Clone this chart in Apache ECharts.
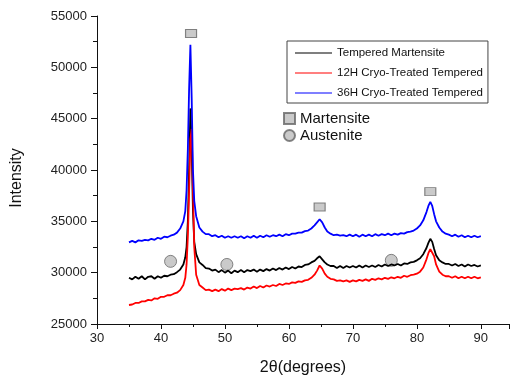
<!DOCTYPE html>
<html>
<head>
<meta charset="utf-8">
<script src="https://cdn.jsdelivr.net/npm/echarts@6/dist/echarts.min.js"></script>
<style>
  html, body { margin: 0; padding: 0; background: #fff; }
  #chart { width: 512px; height: 381px; }
</style>
</head>
<body>
<div id="chart"></div>
<script>
// 2theta positions shared by the three scans (denser around the peaks)
const twoTheta = [
  35, 35.5, 36, 36.5, 37, 37.5, 38, 38.5, 39, 39.5, 40, 40.5, 41, 41.5, 42, 42.5, 43, 43.5,
  43.8, 44, 44.2, 44.4, 44.6, 44.8, 45, 45.2,
  45.5, 46, 46.5, 47, 47.5, 48, 48.5, 49, 49.5, 50, 50.5, 51, 51.5, 52, 52.5, 53, 53.5, 54, 54.5,
  55, 55.5, 56, 56.5, 57, 57.5, 58, 58.5, 59, 59.5, 60, 60.5, 61, 61.5, 62, 62.5, 63, 63.5, 64,
  64.4, 64.8, 65.2, 65.6,
  66, 66.5, 67, 67.5, 68, 68.5, 69, 69.5, 70, 70.5, 71, 71.5, 72, 72.5, 73, 73.5, 74, 74.5,
  75, 75.5, 76, 76.5, 77, 77.5, 78, 78.5, 79, 79.5, 80, 80.5, 81, 81.5,
  81.8, 82.1, 82.4, 82.7,
  83, 83.5, 84, 84.5, 85, 85.5, 86, 86.5, 87, 87.5, 88, 88.5, 89, 89.5, 90
];

const temperedMartensite = [
  29500, 29350, 29600, 29400, 29650, 29350, 29600, 29650, 29400, 29650, 29500, 29700, 29650, 29800, 29850, 30050, 30300, 30800,
  31500, 32500, 35000, 40000, 46000, 42000, 36000, 33000,
  31800, 31000, 30750, 30450, 30400, 30200, 30300, 30050, 30250, 30000, 30200, 29950, 30200, 30050, 30250, 30050, 30250, 30150,
  30300, 30100, 30300, 30150, 30350, 30200, 30400, 30250, 30450, 30300, 30500, 30350, 30550, 30400, 30600, 30550, 30750, 30800, 31000, 31150,
  31400, 31600, 31300, 31000,
  30800, 30650, 30650, 30450, 30650, 30450, 30650, 30500, 30650, 30500, 30700, 30500, 30700, 30550, 30700, 30550, 30750, 30600,
  30800, 30650, 30800, 30700, 30850, 30700, 30900, 30850, 31000, 31050, 31200, 31400, 31800, 32400,
  32900, 33300, 33000, 32300,
  31700, 31200, 31000, 30850, 30850, 30700, 30850, 30650, 30800, 30600, 30800, 30650, 30750, 30600, 30700
];

const cryo12H = [
  26850, 26900, 27050, 27050, 27200, 27200, 27350, 27300, 27500, 27450, 27650, 27650, 27800, 27800, 27950, 28050, 28300, 28800,
  29500, 30800, 33500, 38000, 43000, 44000, 38000, 32500,
  29800, 28800, 28550, 28300, 28350, 28200, 28350, 28200, 28400, 28250, 28450, 28300, 28450, 28400, 28500, 28350, 28550, 28450,
  28650, 28500, 28700, 28550, 28750, 28650, 28800, 28700, 28900, 28800, 28950, 28900, 29050, 29000, 29150, 29100, 29250, 29300, 29500, 29800,
  30200, 30700, 30400, 29900,
  29600, 29400, 29350, 29200, 29250, 29150, 29250, 29100, 29250, 29150, 29300, 29200, 29350, 29200, 29400, 29300, 29450, 29350,
  29500, 29400, 29550, 29450, 29600, 29500, 29700, 29600, 29750, 29800, 29900, 30100, 30500, 31300,
  31900, 32300, 32400, 31600,
  30800, 30100, 29800, 29650, 29650, 29500, 29650, 29450, 29600, 29450, 29600, 29450, 29600, 29450, 29550
];

const cryo36H = [
  32950, 33100, 32950, 33150, 33100, 33200, 33150, 33300, 33200, 33400, 33300, 33500, 33450, 33600, 33700, 33900, 34300, 35000,
  36000, 38000, 42000, 48000, 52200, 47000, 40000, 37000,
  35500, 34400, 34000, 33750, 33750, 33550, 33650, 33450, 33600, 33400, 33550, 33400, 33550, 33400, 33550, 33350, 33550, 33400,
  33600, 33400, 33600, 33450, 33650, 33500, 33650, 33550, 33700, 33550, 33750, 33650, 33800, 33800, 33900, 33900, 34050, 34100, 34300, 34600,
  34900, 35200, 34900, 34400,
  34000, 33800, 33650, 33700, 33600, 33650, 33550, 33700, 33550, 33700, 33500, 33700, 33550, 33700, 33550, 33750, 33600, 33750,
  33650, 33800, 33650, 33800, 33700, 33850, 33800, 33950, 34000, 34100, 34300, 34600, 35100, 35900,
  36500, 36900, 36500, 35700,
  35000, 34400, 34000, 33800, 33700, 33550, 33700, 33500, 33650, 33450, 33600, 33450, 33600, 33450, 33550
];

// phase markers
const martensitePeaks = [[44.7, 53300], [64.8, 36400], [82.1, 37900]];
const austenitePeaks = [[41.5, 31100], [50.3, 30800], [76.0, 31200]];

const xTicks = [30, 40, 50, 60, 70, 80, 90];

const pair = (ys) => twoTheta.map((x, i) => [x, ys[i]]);

const chart = echarts.init(document.getElementById('chart'));
const font = 'Liberation Sans, Arial, sans-serif';

const lineSeries = (name, ys, color) => ({
  name,
  type: 'line',
  data: pair(ys),
  symbol: 'none',
  lineStyle: { color, width: 1.8 },
  itemStyle: { color },
  silent: true,
  animation: false,
});

const markerStyle = { color: '#bdbdbd', borderColor: '#666', borderWidth: 1 };

chart.setOption({
  animation: false,
  textStyle: { fontFamily: font },
  grid: { left: 97, right: 0, top: 16, bottom: 55 },
  legend: [
    {
      data: ['Tempered Martensite', '12H Cryo-Treated Tempered', '36H Cryo-Treated Tempered'],
      orient: 'vertical',
      left: 287,
      top: 41,
      padding: [5, 5, 3, 8],
      itemGap: 6,
      icon: 'rect',
      itemWidth: 37,
      itemHeight: 1,
      borderColor: '#444',
      borderWidth: 1,
      borderRadius: 0,
      textStyle: { fontSize: 11.5, lineHeight: 14, color: '#111', fontFamily: font },
    },
    {
      data: ['Martensite', 'Austenite'],
      orient: 'vertical',
      left: 283,
      top: 111,
      padding: 0,
      itemGap: 2,
      itemWidth: 11,
      itemHeight: 11,
      textStyle: { fontSize: 15, color: '#111', fontFamily: font },
    },
  ],
  xAxis: {
    type: 'value',
    min: 30,
    max: 94.4,
    interval: 10,
    name: '2θ(degrees)',
    nameLocation: 'middle',
    nameGap: 36,
    nameTextStyle: { fontSize: 16, color: '#111' },
    axisLine: { lineStyle: { color: '#111', width: 1 } },
    axisTick: { inside: false, length: 5, lineStyle: { color: '#111' } },
    minorTick: { show: true, splitNumber: 2, length: 3, lineStyle: { color: '#111' } },
    axisLabel: {
      margin: 8,
      fontSize: 13,
      color: '#222',
      formatter: (v) => (xTicks.includes(v) ? String(v) : ''),
    },
    splitLine: { show: false },
  },
  yAxis: {
    type: 'value',
    min: 25000,
    max: 55000,
    interval: 5000,
    name: 'Intensity',
    nameLocation: 'middle',
    nameGap: 72,
    nameTextStyle: { fontSize: 16, color: '#111', padding: [0, 16, 0, 0] },
    axisLine: { show: true, lineStyle: { color: '#111', width: 1 } },
    axisTick: { show: true, length: 6, lineStyle: { color: '#111' } },
    minorTick: { show: true, splitNumber: 2, length: 4, lineStyle: { color: '#111' } },
    axisLabel: { margin: 10, fontSize: 13, color: '#222', formatter: (v) => String(v) },
    splitLine: { show: false },
  },
  series: [
    lineSeries('Tempered Martensite', temperedMartensite, '#000000'),
    lineSeries('12H Cryo-Treated Tempered', cryo12H, '#ff0000'),
    lineSeries('36H Cryo-Treated Tempered', cryo36H, '#0000ff'),
    {
      name: 'Martensite',
      type: 'scatter',
      symbol: 'rect',
      symbolSize: [11, 8],
      data: martensitePeaks,
      itemStyle: markerStyle,
      silent: true,
    },
    {
      name: 'Austenite',
      type: 'scatter',
      symbol: 'circle',
      symbolSize: 12,
      data: austenitePeaks,
      itemStyle: markerStyle,
      silent: true,
    },
  ],
});
</script>
</body>
</html>
